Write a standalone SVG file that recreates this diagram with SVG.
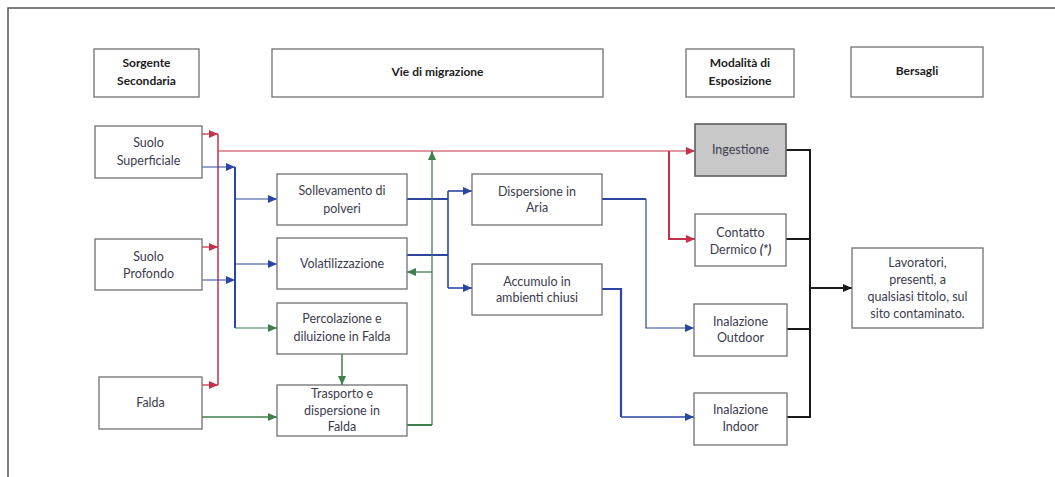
<svg xmlns="http://www.w3.org/2000/svg" width="1055" height="477" viewBox="0 0 1055 477">
<defs>
<style>
.box{fill:#ffffff;stroke:#707070;stroke-width:1.3}
.gray{fill:#c8c8c8;stroke:#606060;stroke-width:1.6}
text{font-family:Lato,"Open Sans","Liberation Sans",sans-serif;font-size:12.5px;fill:#3c3c4e;text-anchor:middle}
.h{font-weight:bold;font-size:12px;fill:#202020}
.r{fill:none;stroke:#c4314b}
.b{fill:none;stroke:#2c45a0}
.g{fill:none;stroke:#3e7f4c}
.k{fill:none;stroke:#1a1a1a;stroke-width:2}
</style>
<marker id="ar" markerUnits="userSpaceOnUse" markerWidth="10" markerHeight="10" refX="9" refY="5" orient="auto"><path d="M0,1 L9,5 L0,9 Z" fill="#c4314b"/></marker>
<marker id="ab" markerUnits="userSpaceOnUse" markerWidth="10" markerHeight="10" refX="9" refY="5" orient="auto"><path d="M0,1 L9,5 L0,9 Z" fill="#2c45a0"/></marker>
<marker id="ag" markerUnits="userSpaceOnUse" markerWidth="10" markerHeight="10" refX="9" refY="5" orient="auto"><path d="M0,1 L9,5 L0,9 Z" fill="#3e7f4c"/></marker>
<marker id="ak" markerUnits="userSpaceOnUse" markerWidth="10" markerHeight="10" refX="9" refY="5" orient="auto"><path d="M0,1 L9,5 L0,9 Z" fill="#1a1a1a"/></marker>
</defs>
<rect width="1055" height="477" fill="#ffffff"/>
<path d="M8,477 V8 H1055" fill="none" stroke="#555" stroke-width="1.5"/>

<g id="headers">
<g id="h-sorgente"><rect class="box" x="94" y="49" width="105" height="48"/><text class="h" x="146.5" y="67">Sorgente</text><text class="h" x="146.5" y="85">Secondaria</text></g>
<g id="h-vie"><rect class="box" x="272" y="49" width="331" height="48"/><text class="h" x="437.5" y="76">Vie di migrazione</text></g>
<g id="h-modalita"><rect class="box" x="686" y="49" width="108" height="48"/><text class="h" x="740" y="67">Modalità di</text><text class="h" x="740" y="85">Esposizione</text></g>
<g id="h-bersagli"><rect class="box" x="851" y="47" width="132" height="50"/><text class="h" x="917" y="75">Bersagli</text></g>
</g>

<g id="connectors">
<!-- red -->
<path class="r" stroke-width="1.5" d="M218,134 V385"/>
<path class="r" stroke-width="1.3" d="M202,134 H218" marker-end="url(#ar)"/>
<path class="r" stroke-width="1.3" d="M202,247 H218" marker-end="url(#ar)"/>
<path class="r" stroke-width="1.3" d="M202,385 H218" marker-end="url(#ar)"/>
<path class="r" stroke-width="1.2" d="M218,151 H695" marker-end="url(#ar)"/>
<path class="r" stroke-width="2" d="M669,151 V239 H695" marker-end="url(#ar)"/>
<!-- blue -->
<path class="b" stroke-width="2" d="M235,167 V328"/>
<path class="b" stroke-width="1.2" d="M202,167 H235" marker-end="url(#ab)"/>
<path class="b" stroke-width="1.2" d="M202,280 H235" marker-end="url(#ab)"/>
<path class="b" stroke-width="1.2" d="M235,199 H277" marker-end="url(#ab)"/>
<path class="b" stroke-width="1.2" d="M235,264 H277" marker-end="url(#ab)"/>
<path class="b" stroke-width="2.2" d="M407,199 H448"/>
<path class="b" stroke-width="2.2" d="M407,255 H448"/>
<path class="b" stroke-width="1.6" d="M448,191 V288"/>
<path class="b" stroke-width="1.6" d="M448,191 H472" marker-end="url(#ab)"/>
<path class="b" stroke-width="1.6" d="M448,288 H472" marker-end="url(#ab)"/>
<path class="b" stroke-width="2.2" d="M602,199 H646"/>
<path class="b" stroke-width="1.2" d="M646,199 V328 H694" marker-end="url(#ab)"/>
<path class="b" stroke-width="2.2" d="M602,289 H621 V417"/>
<path class="b" stroke-width="1.6" d="M621,417 H694" marker-end="url(#ab)"/>
<!-- green -->
<path class="g" stroke-width="1.2" d="M235,328 H277" marker-end="url(#ag)"/>
<path class="g" stroke-width="1.3" d="M432,425 V151" marker-end="url(#ag)"/>
<path class="g" stroke-width="2" d="M407,425 H432"/>
<path class="g" stroke-width="1.3" d="M432,272 H407" marker-end="url(#ag)"/>
<path class="g" stroke-width="1.5" d="M342,354 V385" marker-end="url(#ag)"/>
<path class="g" stroke-width="1.5" d="M202,417 H277" marker-end="url(#ag)"/>
<!-- black -->
<path class="k" d="M786,150 H810 V417 H787"/>
<path class="k" d="M786,239 H810"/>
<path class="k" d="M787,329 H810"/>
<path class="k" stroke-width="1.5" d="M810,288 H852" marker-end="url(#ak)"/>
</g>

<g id="n-suolo-sup"><rect class="box" x="95" y="126" width="107" height="52"/><text x="148.5" y="147">Suolo</text><text x="148.5" y="165">Superficiale</text></g>
<g id="n-suolo-prof"><rect class="box" x="95" y="239" width="107" height="51"/><text x="148.5" y="261">Suolo</text><text x="148.5" y="278">Profondo</text></g>
<g id="n-falda"><rect class="box" x="99" y="377" width="103" height="52"/><text x="150.5" y="407">Falda</text></g>

<g id="n-sollevamento"><rect class="box" x="277" y="174" width="130" height="51"/><text x="342" y="195">Sollevamento di</text><text x="342" y="213">polveri</text></g>
<g id="n-volatilizzazione"><rect class="box" x="277" y="238" width="130" height="51"/><text x="342" y="268">Volatilizzazione</text></g>
<g id="n-percolazione"><rect class="box" x="277" y="303" width="130" height="51"/><text x="342" y="323">Percolazione e</text><text x="342" y="341">diluizione in Falda</text></g>
<g id="n-trasporto"><rect class="box" x="277" y="385" width="130" height="51"/><text x="342" y="398">Trasporto e</text><text x="342" y="415">dispersione in</text><text x="342" y="431">Falda</text></g>

<g id="n-dispersione"><rect class="box" x="472" y="174" width="130" height="51"/><text x="537" y="196">Dispersione in</text><text x="537" y="212">Aria</text></g>
<g id="n-accumulo"><rect class="box" x="472" y="264" width="130" height="51"/><text x="537" y="286">Accumulo in</text><text x="537" y="302">ambienti chiusi</text></g>

<g id="n-ingestione"><rect class="gray" x="695" y="124" width="91" height="52"/><text x="740.5" y="154">Ingestione</text></g>
<g id="n-contatto"><rect class="box" x="695" y="214" width="91" height="52"/><text x="740.5" y="237">Contatto</text><text x="740.5" y="254">Dermico <tspan font-style="italic" font-weight="bold">(*)</tspan></text></g>
<g id="n-outdoor"><rect class="box" x="694" y="304" width="93" height="52"/><text x="740.5" y="326">Inalazione</text><text x="740.5" y="342">Outdoor</text></g>
<g id="n-indoor"><rect class="box" x="694" y="393" width="93" height="52"/><text x="740.5" y="414">Inalazione</text><text x="740.5" y="431">Indoor</text></g>

<g id="n-lavoratori"><rect class="box" x="852" y="248" width="131" height="80"/><text x="917.5" y="267">Lavoratori,</text><text x="917.5" y="284">presenti, a</text><text x="917.5" y="301">qualsiasi titolo, sul</text><text x="917.5" y="318">sito contaminato.</text></g>
</svg>
